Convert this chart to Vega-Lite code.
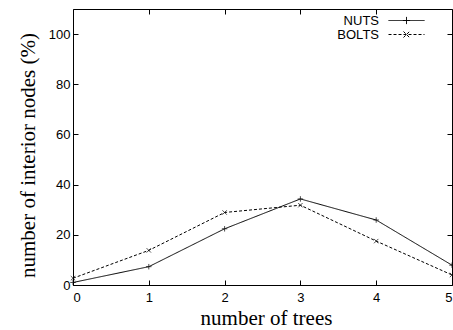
{
  "$schema": "https://vega.github.io/schema/vega-lite/v6.json",
  "width": 379,
  "height": 276,
  "autosize": {"type": "none"},
  "padding": {"left": 73, "top": 9, "right": 1, "bottom": 45},
  "background": "white",
  "config": {
    "view": {"stroke": "black", "strokeWidth": 1},
    "axis": {
      "grid": false,
      "domain": false,
      "tickColor": "black",
      "tickSize": -5,
      "labelFont": "Liberation Sans",
      "labelFontSize": 13,
      "labelColor": "black",
      "titleFont": "Liberation Serif",
      "titleFontSize": 21,
      "titleFontWeight": "normal",
      "titleColor": "black"
    }
  },
  "data": {
    "values": [
      {"trees": 0, "pct": 1.0, "series": "NUTS"},
      {"trees": 1, "pct": 7.3, "series": "NUTS"},
      {"trees": 2, "pct": 22.4, "series": "NUTS"},
      {"trees": 3, "pct": 34.3, "series": "NUTS"},
      {"trees": 4, "pct": 25.9, "series": "NUTS"},
      {"trees": 5, "pct": 7.9, "series": "NUTS"},
      {"trees": 0, "pct": 2.7, "series": "BOLTS"},
      {"trees": 1, "pct": 13.8, "series": "BOLTS"},
      {"trees": 2, "pct": 28.9, "series": "BOLTS"},
      {"trees": 3, "pct": 31.8, "series": "BOLTS"},
      {"trees": 4, "pct": 17.5, "series": "BOLTS"},
      {"trees": 5, "pct": 4.0, "series": "BOLTS"}
    ]
  },
  "layer": [
    {
      "mark": {"type": "line", "color": "black", "strokeWidth": 1},
      "encoding": {
        "x": {
          "field": "trees", "type": "quantitative",
          "scale": {"domain": [0, 5], "nice": false},
          "axis": {"values": [0, 1, 2, 3, 4, 5], "title": "number of trees", "labelPadding": 11, "titlePadding": 3, "titleX": 193}
        },
        "y": {
          "field": "pct", "type": "quantitative",
          "scale": {"domain": [0, 110], "nice": false},
          "axis": {"values": [0, 20, 40, 60, 80, 100], "title": "number of interior nodes (%)", "labelPadding": 8, "titlePadding": 10, "titleY": 146}
        },
        "strokeDash": {
          "field": "series", "type": "nominal",
          "scale": {"domain": ["NUTS", "BOLTS"], "range": [[1, 0], [3, 2]]},
          "legend": {
            "title": null,
            "orient": "none",
            "legendX": 327,
            "legendY": 5,
            "symbolSize": 144,
            "symbolStrokeWidth": 1,
            "symbolStrokeColor": "black",
            "symbolFillColor": "transparent",
            "labelAlign": "right",
            "labelOffset": -34,
            "labelFont": "Liberation Sans",
            "labelFontSize": 13,
            "labelColor": "black",
            "rowPadding": -2,
            "encode": {
              "symbols": {
                "update": {
                  "shape": {"signal": "datum.value === 'NUTS' ? 'M-3,0L3,0M-0.6,0L0.6,0M0,-0.6L0,0.6' : 'M-3,0L3,0M-0.5,-0.5L0.5,0.5M-0.5,0.5L0.5,-0.5'"}
                }
              }
            }
          }
        }
      }
    },
    {
      "mark": {"type": "point", "opacity": 0},
      "encoding": {
        "x": {"field": "trees", "type": "quantitative", "axis": {"orient": "top", "values": [0, 1, 2, 3, 4, 5], "ticks": true, "tickSize": 5, "offset": -5, "tickColor": "black", "labels": false, "title": null, "zindex": 2}},
        "y": {"field": "pct", "type": "quantitative", "axis": {"orient": "right", "values": [0, 20, 40, 60, 80, 100], "ticks": true, "tickSize": 5, "offset": -5, "tickColor": "black", "labels": false, "title": null, "zindex": 2}}
      }
    },
    {
      "transform": [{"filter": "datum.series === 'NUTS'"}],
      "mark": {"type": "point", "color": "black", "filled": false, "strokeWidth": 1, "size": 30, "shape": "M-1,0L1,0M0,-1L0,1"},
      "encoding": {
        "x": {"field": "trees", "type": "quantitative", "axis": null},
        "y": {"field": "pct", "type": "quantitative", "axis": null}
      }
    },
    {
      "transform": [{"filter": "datum.series === 'BOLTS'"}],
      "mark": {"type": "point", "color": "black", "filled": false, "strokeWidth": 1, "size": 30, "shape": "M-0.8,-0.8L0.8,0.8M-0.8,0.8L0.8,-0.8"},
      "encoding": {
        "x": {"field": "trees", "type": "quantitative", "axis": null},
        "y": {"field": "pct", "type": "quantitative", "axis": null}
      }
    }
  ],
  "resolve": {"axis": {"x": "independent", "y": "independent"}}
}
